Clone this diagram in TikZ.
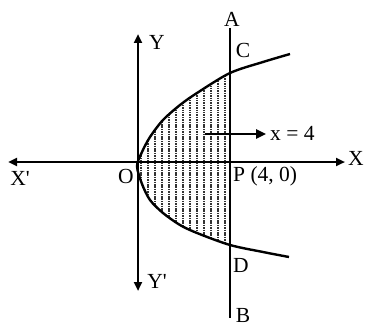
\documentclass[tikz,border=0pt]{standalone}
\usepackage{fontspec}
\setmainfont{Liberation Serif}
\usetikzlibrary{arrows.meta}
\tikzset{
  axis/.style={line width=2.4pt,-{Triangle[length=9pt,width=8pt]}},
  curve/.style={line width=2.4pt},
  lbl/.style={font=\fontsize{21.5}{24}\selectfont,inner sep=0pt},
  hatch/.style={line width=1.1pt,black!80,dash pattern=on 1.5pt off 0.9pt}
}
\begin{document}
\begin{tikzpicture}[x=1pt,y=-1pt]
\useasboundingbox (0,0) rectangle (367,329);
\coordinate (O) at (138,162);
\coordinate (Xp) at (345,162);
\coordinate (Xm) at (8,162);
\coordinate (Yp) at (138,34);
\coordinate (Ym) at (138,291);
\coordinate (A) at (230,28);
\coordinate (B) at (230,318);
\coordinate (C) at (230,73);
\coordinate (D) at (230,245);
\coordinate (Ar1) at (205,134);
\coordinate (Ar2) at (266,134);
% shading
\begin{scope}
\clip (C) -- plot[smooth] coordinates {(230,73) (197,93) (180,105) (163,120) (150,137) (142,152) (137,166) (142,184) (150,200) (163,213) (180,225) (197,233) (230,245)} -- cycle;
\foreach \x in {141,148,...,228} {
  \draw[hatch] (\x,40) -- (\x,270);
}
\end{scope}
% axes
\draw[axis] (O) -- (Xp);
\draw[axis] (O) -- (Xm);
\draw[axis] (O) -- (Yp);
\draw[axis] (O) -- (Ym);
% line x=4
\draw[curve] (A) -- (B);
% parabola
\draw[curve] plot[smooth] coordinates {(290,54) (263,62) (230,73) (197,93) (180,105) (163,120) (150,137) (142,152) (137,166) (142,184) (150,200) (163,213) (180,225) (197,233) (230,245) (263,252) (289,257)};
% arrow
\draw[line width=2.4pt,-{Triangle[length=10pt,width=9pt]}] (Ar1) -- (Ar2);
% labels
\node[lbl] (lY) at (157,42) {Y};
\node[lbl] (lA) at (232,19) {A};
\node[lbl] (lC) at (243,50) {C};
\node[lbl,anchor=west] (lx) at (270,133) {x = 4};
\node[lbl] (lX) at (356,158) {X};
\node[lbl] (lXm) at (20,178) {X\textquotesingle};
\node[lbl] (lO) at (126,176) {O};
\node[lbl,anchor=west] (lP) at (233,176) {P (4, 0)};
\node[lbl] (lD) at (241,265) {D};
\node[lbl] (lYm) at (157,281) {Y\textquotesingle};
\node[lbl] (lB) at (243,315) {B};
\end{tikzpicture}
\end{document}
